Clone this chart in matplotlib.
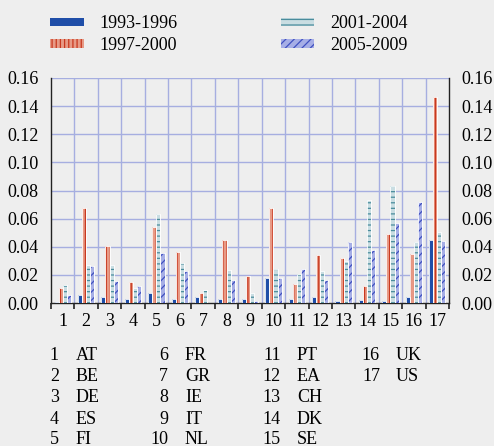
import matplotlib
matplotlib.use("Agg")
import matplotlib.pyplot as plt
from matplotlib.patches import Patch
import numpy as np

FONT = 'Liberation Serif'
plt.rcParams['font.family'] = 'serif'
plt.rcParams['font.serif'] = [FONT]
plt.rcParams['hatch.linewidth'] = 0.9

groups = [str(i) for i in range(1, 18)]
countries = ["AT", "BE", "DE", "ES", "FI", "FR", "GR", "IE", "IT", "NL",
             "PT", "EA", "CH", "DK", "SE", "UK", "US"]
series_names = ["1993-1996", "1997-2000", "2001-2004", "2005-2009"]
s1993 = [0.0005, 0.0055, 0.0041, 0.0026, 0.0074, 0.0026, 0.0041, 0.0031, 0.0031,
         0.0180, 0.0026, 0.0043, 0.0014, 0.0019, 0.0014, 0.0043, 0.0448]
s1997 = [0.0107, 0.0676, 0.0408, 0.0149, 0.0543, 0.0361, 0.0069, 0.0446, 0.0192,
         0.0673, 0.0135, 0.0344, 0.0320, 0.0121, 0.0493, 0.0351, 0.1465]
s2001 = [0.0131, 0.0270, 0.0270, 0.0105, 0.0631, 0.0282, 0.0095, 0.0237, 0.0074,
         0.0242, 0.0209, 0.0230, 0.0301, 0.0733, 0.0832, 0.0437, 0.0505]
s2005 = [0.0060, 0.0263, 0.0154, 0.0121, 0.0353, 0.0230, 0.0000, 0.0161, 0.0014,
         0.0176, 0.0242, 0.0164, 0.0432, 0.0377, 0.0567, 0.0718, 0.0441]
yticks = [0.00, 0.02, 0.04, 0.06, 0.08, 0.10, 0.12, 0.14, 0.16]

bg = "#EEEEEE"
styles = [
    dict(face="#1F4EA8", hatch=None, hc="#1F4EA8"),
    dict(face="#E79A86", hatch="||||", hc="#C8381F"),
    dict(face="#C9DDE2", hatch="---", hc="#4A8C9C"),
    dict(face="#A6AEE6", hatch="////", hc="#4050C0"),
]

fig = plt.figure(figsize=(4.94, 4.46), dpi=100, facecolor=bg)
ax = fig.add_axes([51/494, 1-303/446, 398/494, 225/446], facecolor=bg)

x = np.arange(len(groups))
bw = 0.175
for k, vals in enumerate([s1993, s1997, s2001, s2005]):
    st = styles[k]
    pos = x + (k - 1.5) * bw
    ax.bar(pos, vals, width=bw, color=st["face"], hatch=st["hatch"],
           edgecolor=st["hc"], linewidth=0, zorder=3)
    ax.bar(pos, vals, width=bw, fill=False, edgecolor="white", linewidth=0.6, zorder=4)

ax.set_xlim(-0.5, len(groups) - 0.5)
ax.set_ylim(0, 0.16)
ax.set_yticks(yticks)
ax.set_yticklabels([f"{v:.2f}" for v in yticks], fontfamily=FONT)
ax.tick_params(axis='y', length=0, labelsize=13, pad=9, left=True, right=True,
               labelleft=True, labelright=True)
ax.set_xticks(np.arange(-0.5, len(groups), 1.0))
ax.set_xticklabels([])
ax.set_xticks(x, minor=True)
ax.set_xticklabels(groups, minor=True, fontfamily=FONT)
ax.tick_params(axis='x', which='major', length=4, width=1.2, color="#222222", direction='out')
ax.tick_params(axis='x', which='minor', length=0, labelsize=13, pad=7)

gc = "#A6AEE0"
for v in yticks[1:]:
    ax.axhline(v, color=gc, lw=1, zorder=1)
for b in np.arange(0.5, len(groups) - 0.5, 1.0):
    ax.axvline(b, color=gc, lw=1, zorder=1)

for s in ["left", "right", "bottom"]:
    ax.spines[s].set_color("#222222")
    ax.spines[s].set_linewidth(1.0)
ax.spines["top"].set_visible(False)

handles = [Patch(facecolor=st["face"], hatch=st["hatch"], edgecolor=st["hc"], linewidth=0)
           for st in styles]
leg = fig.legend(handles, series_names, loc='upper left', bbox_to_anchor=(34/494, 1 + 1/446),
                 ncol=2, frameon=False, prop={'family': FONT, 'size': 13},
                 handlelength=1.85, handleheight=0.35,
                 handletextpad=0.9, columnspacing=5.68, labelspacing=0.25)

rows = 5
row_y = [355, 376.5, 398, 419.5, 439]
num_right = [59, 168, 281, 380]
code_left = [76, 185, 297, 396]
for i, (g, c) in enumerate(zip(groups, countries)):
    col, r = divmod(i, rows)
    yy = 1 - row_y[r] / 446
    fig.text(num_right[col] / 494, yy, g, ha='right', va='center', fontsize=13, fontfamily=FONT)
    fig.text(code_left[col] / 494, yy, c, ha='left', va='center', fontsize=13, fontfamily=FONT)

fig.savefig("out.png", dpi=100, facecolor=bg)
